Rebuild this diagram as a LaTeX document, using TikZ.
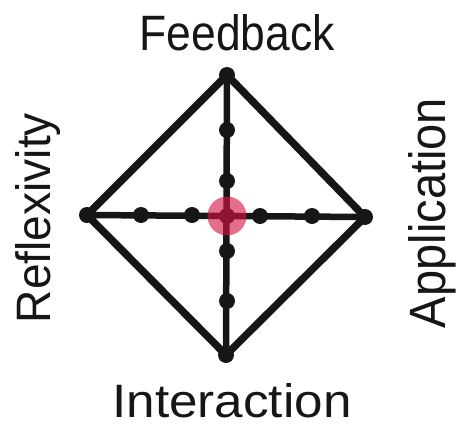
\documentclass[tikz,border=0pt]{standalone}
\usepackage{fontspec}
\setmainfont{Liberation Sans}
\definecolor{ink}{RGB}{22,22,22}
\definecolor{hub}{RGB}{215,20,70}
\tikzset{
  dotnode/.style={circle,fill=ink,inner sep=0pt,minimum size=16pt},
  edgeline/.style={draw=ink,line width=7.5pt,line cap=round,line join=round},
  axisline/.style={draw=ink,line width=6.5pt,line cap=round},
  hubnode/.style={circle,fill=hub,fill opacity=0.62,inner sep=0pt,minimum size=39pt},
  label/.style={text=ink,inner sep=0pt}
}
\begin{document}
\begin{tikzpicture}[x=1pt,y=-1pt]
\useasboundingbox (0,0) rectangle (459,429);
% corners and centre
\coordinate (T) at (227,75);
\coordinate (L) at (87,215);
\coordinate (R) at (365,217);
\coordinate (B) at (226,355);
\coordinate (C) at (227,216);
% diamond
\draw[edgeline] (T) -- (R) -- (B) -- (L) -- cycle;
% axes
\draw[axisline] (T) -- (B);
\draw[axisline] (L) -- (R);
% dots
\node[dotnode] (t0) at (T) {};
\node[dotnode] (l0) at (L) {};
\node[dotnode] (r0) at (R) {};
\node[dotnode] (b0) at (B) {};
\node[dotnode] (v1) at (227,130) {};
\node[dotnode] (v2) at (227,181) {};
\node[dotnode] (v3) at (227,251) {};
\node[dotnode] (v4) at (227,301) {};
\node[dotnode] (h1) at (141,215) {};
\node[dotnode] (h2) at (192,215) {};
\node[dotnode] (h3) at (260,216) {};
\node[dotnode] (h4) at (312,216) {};
\node[dotnode] (c0) at (C) {};
\node[hubnode] (hub) at (C) {};
% labels
\node[label,anchor=base] (fb) at (237,50) {\resizebox{195pt}{36pt}{Feedback}};
\node[label,anchor=base] (ia) at (232,417) {\resizebox{239pt}{34pt}{Interaction}};
\node[label,anchor=base,rotate=90] (rf) at (50,218) {\resizebox{210pt}{35pt}{Reflexivity}};
\node[label,anchor=base,rotate=90] (ap) at (445,213) {\resizebox{230pt}{37pt}{Application}};
\end{tikzpicture}
\end{document}
